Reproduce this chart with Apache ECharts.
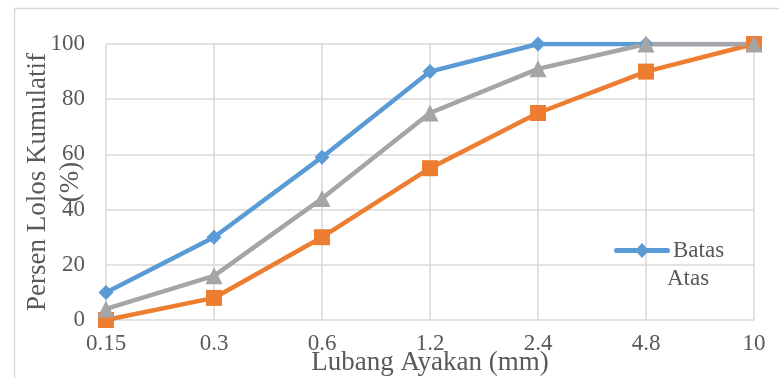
<!DOCTYPE html>
<html>
<head>
<meta charset="utf-8">
<script src="https://cdn.jsdelivr.net/npm/echarts@6/dist/echarts.min.js"></script>
<style>
  html, body { margin: 0; padding: 0; background: #fff; }
  #chart { width: 779px; height: 378px; }
</style>
</head>
<body>
<div id="chart"></div>
<script>
// Sieve sizes (mm) and cumulative passing percentages
var sieveSizes = ['0.15', '0.3', '0.6', '1.2', '2.4', '4.8', '10'];
var batasAtas = [10, 30, 59, 90, 100, 100, 100];
var batasBawah = [0, 8, 30, 55, 75, 90, 100];
var gradasi = [4, 16, 44, 75, 91, 100, 100];
var yTicks = [0, 20, 40, 60, 80, 100];

var FONT = '"Liberation Serif", "Times New Roman", serif';
var TEXT = '#595959';
var GRID = '#d9d9d9';
var BLUE = '#5b9bd5';

// legend marker: thick rounded line with a diamond in the middle
var LEGEND_ICON = 'path://M2.5,5 H53.5 A2.5,2.5 0 0 1 53.5,10 H2.5 A2.5,2.5 0 0 1 2.5,5 Z M28,0 L35,7.5 L28,15 L21,7.5 Z';

var chart = echarts.init(document.getElementById('chart'));

function lineSeries(name, data, color, symbol, size) {
  return {
    name: name,
    type: 'line',
    data: data,
    symbol: symbol,
    symbolSize: size,
    showSymbol: true,
    lineStyle: { color: color, width: 4.5 },
    itemStyle: { color: color },
    animation: false
  };
}

chart.setOption({
  backgroundColor: '#fff',
  grid: {
    left: 106, right: 25, top: 44, bottom: 58,
    containLabel: false,
    outerBoundsMode: 'none'
  },
  xAxis: {
    type: 'category',
    data: sieveSizes,
    boundaryGap: false,
    name: 'Lubang Ayakan (mm)',
    nameLocation: 'middle',
    nameGap: 29,
    nameMoveOverlap: false,
    nameTextStyle: { fontFamily: FONT, fontSize: 27, color: TEXT },
    axisLine: { show: false },
    axisTick: { show: false },
    axisLabel: { fontFamily: FONT, fontSize: 23, color: TEXT, margin: 12 },
    splitLine: { show: true, lineStyle: { color: GRID, width: 1.5 } }
  },
  yAxis: {
    type: 'value',
    min: yTicks[0],
    max: yTicks[yTicks.length - 1],
    interval: yTicks[1] - yTicks[0],
    name: 'Persen Lolos Kumulatif\n(%)',
    nameLocation: 'middle',
    nameGap: 19,
    nameMoveOverlap: false,
    nameTextStyle: { fontFamily: FONT, fontSize: 27, color: TEXT, lineHeight: 33 },
    axisLine: { show: false },
    axisTick: { show: false },
    axisLabel: { fontFamily: FONT, fontSize: 23, color: TEXT, margin: 21 },
    splitLine: { show: true, lineStyle: { color: GRID, width: 1.5 } }
  },
  legend: {
    data: [{ name: 'Batas Atas', icon: LEGEND_ICON, itemStyle: { color: BLUE } }],
    left: 609,
    top: 234,
    itemWidth: 56,
    itemHeight: 15,
    itemGap: 4,
    formatter: function () { return 'Batas'; },
    textStyle: { fontFamily: FONT, fontSize: 23, color: TEXT, padding: [0, 0, 0, -2] }
  },
  graphic: [
    {
      type: 'rect',
      shape: { x: 14.5, y: 8.5, width: 900, height: 500 },
      style: { fill: 'none', stroke: GRID, lineWidth: 1.5 },
      silent: true,
      z: -10
    },
    {
      type: 'text',
      left: 667,
      top: 267,
      style: { text: 'Atas', font: '23px ' + FONT, fill: TEXT },
      silent: true
    }
  ],
  series: [
    lineSeries('Batas Atas', batasAtas, BLUE, 'diamond', 15),
    lineSeries('Batas Bawah', batasBawah, '#ed7d31', 'rect', 16),
    lineSeries('Gradasi', gradasi, '#a5a5a5', 'triangle', 17)
  ]
});
</script>
</body>
</html>
